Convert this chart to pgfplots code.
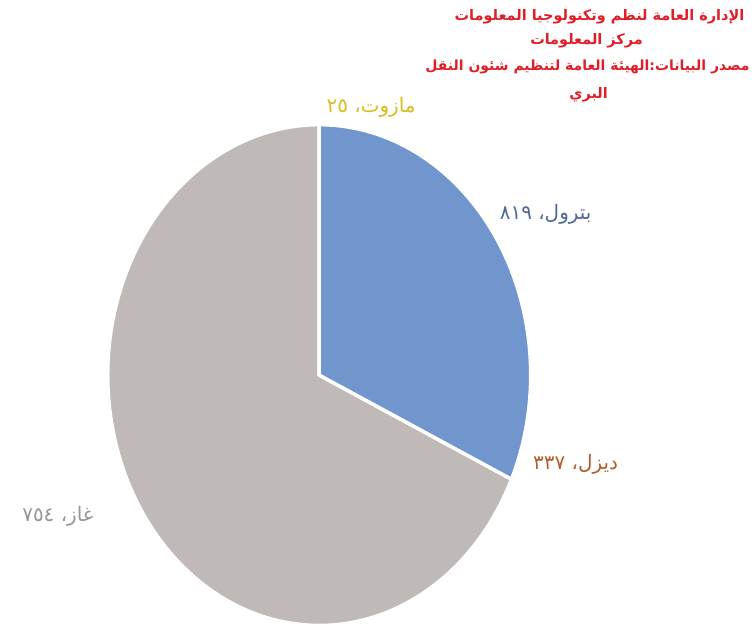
\documentclass[border=0pt]{standalone}
\usepackage{fontspec}
\usepackage{pgfplots}
\pgfplotsset{compat=1.18}
\TeXXeTstate=1
\newfontfamily\arabicfont[Script=Arabic]{DejaVu Sans}
\definecolor{pblue}{RGB}{112,150,205}
\definecolor{pgray}{RGB}{191,186,183}
\definecolor{ttlred}{RGB}{225,30,40}
\definecolor{lblue}{RGB}{80,105,150}
\definecolor{lbrown}{RGB}{175,95,45}
\definecolor{lyellow}{RGB}{215,190,30}
\definecolor{lgray}{RGB}{150,150,150}
% slice sizes as drawn (diesel and mazut slices are not visible in the chart)
\def\vPetrol{819}
\def\vDiesel{0}
\def\vGas{1754}
\def\vMazut{0}
\pgfmathsetmacro\tot{\vPetrol+\vDiesel+\vGas+\vMazut}
\pgfmathsetmacro\aA{90}
\pgfmathsetmacro\aB{90-360*(\vPetrol/\tot)}
\pgfmathsetmacro\aC{\aB-360*(\vDiesel/\tot)}
\pgfmathsetmacro\aD{\aC-360*(\vGas/\tot)}
\begin{document}
\begin{tikzpicture}
\begin{axis}[hide axis, scale only axis, width=753pt, height=632pt,
  xmin=0, xmax=753, ymin=0, ymax=632, clip=false]
\path (axis cs:0,0) rectangle (axis cs:753,632);
\addplot[fill=pgray, draw=white, line width=3.5pt, line join=round, domain=\aD:\aC, samples=200, variable=\t]
  ({320+212*cos(t)},{256+251*sin(t)}) -- (axis cs:320,256) -- cycle;
\addplot[fill=pblue, draw=white, line width=3.5pt, line join=round, domain=\aB:\aA, samples=120, variable=\t]
  ({320+212*cos(t)},{256+251*sin(t)}) -- (axis cs:320,256) -- cycle;
% title
\node[text=ttlred, font=\arabicfont\bfseries\fontsize{14.5}{16}\selectfont] at (axis cs:601,615) {\beginR الإدارة العامة لنظم وتكنولوجيا المعلومات\endR};
\node[text=ttlred, font=\arabicfont\bfseries\fontsize{14.5}{16}\selectfont] at (axis cs:588,591) {\beginR مركز المعلومات\endR};
\node[text=ttlred, font=\arabicfont\bfseries\fontsize{14}{16}\selectfont] at (axis cs:589,565) {\beginR مصدر البيانات:الهيئة العامة لتنظيم شئون النقل\endR};
\node[text=ttlred, font=\arabicfont\bfseries\fontsize{14.5}{16}\selectfont] at (axis cs:590,537) {\beginR البري\endR};
% labels
\node[text=lyellow, font=\arabicfont\fontsize{20}{22}\selectfont] at (axis cs:372,524) {\beginR مازوت، ٢٥\endR};
\node[text=lblue, font=\arabicfont\fontsize{20}{22}\selectfont] at (axis cs:547,417) {\beginR بترول، ٨١٩\endR};
\node[text=lbrown, font=\arabicfont\fontsize{20}{22}\selectfont] at (axis cs:577,166) {\beginR ديزل، ٣٣٧\endR};
\node[text=lgray, font=\arabicfont\fontsize{20}{22}\selectfont] at (axis cs:58,114) {\beginR غاز، ٧٥٤\endR};
\end{axis}
\end{tikzpicture}
\end{document}
